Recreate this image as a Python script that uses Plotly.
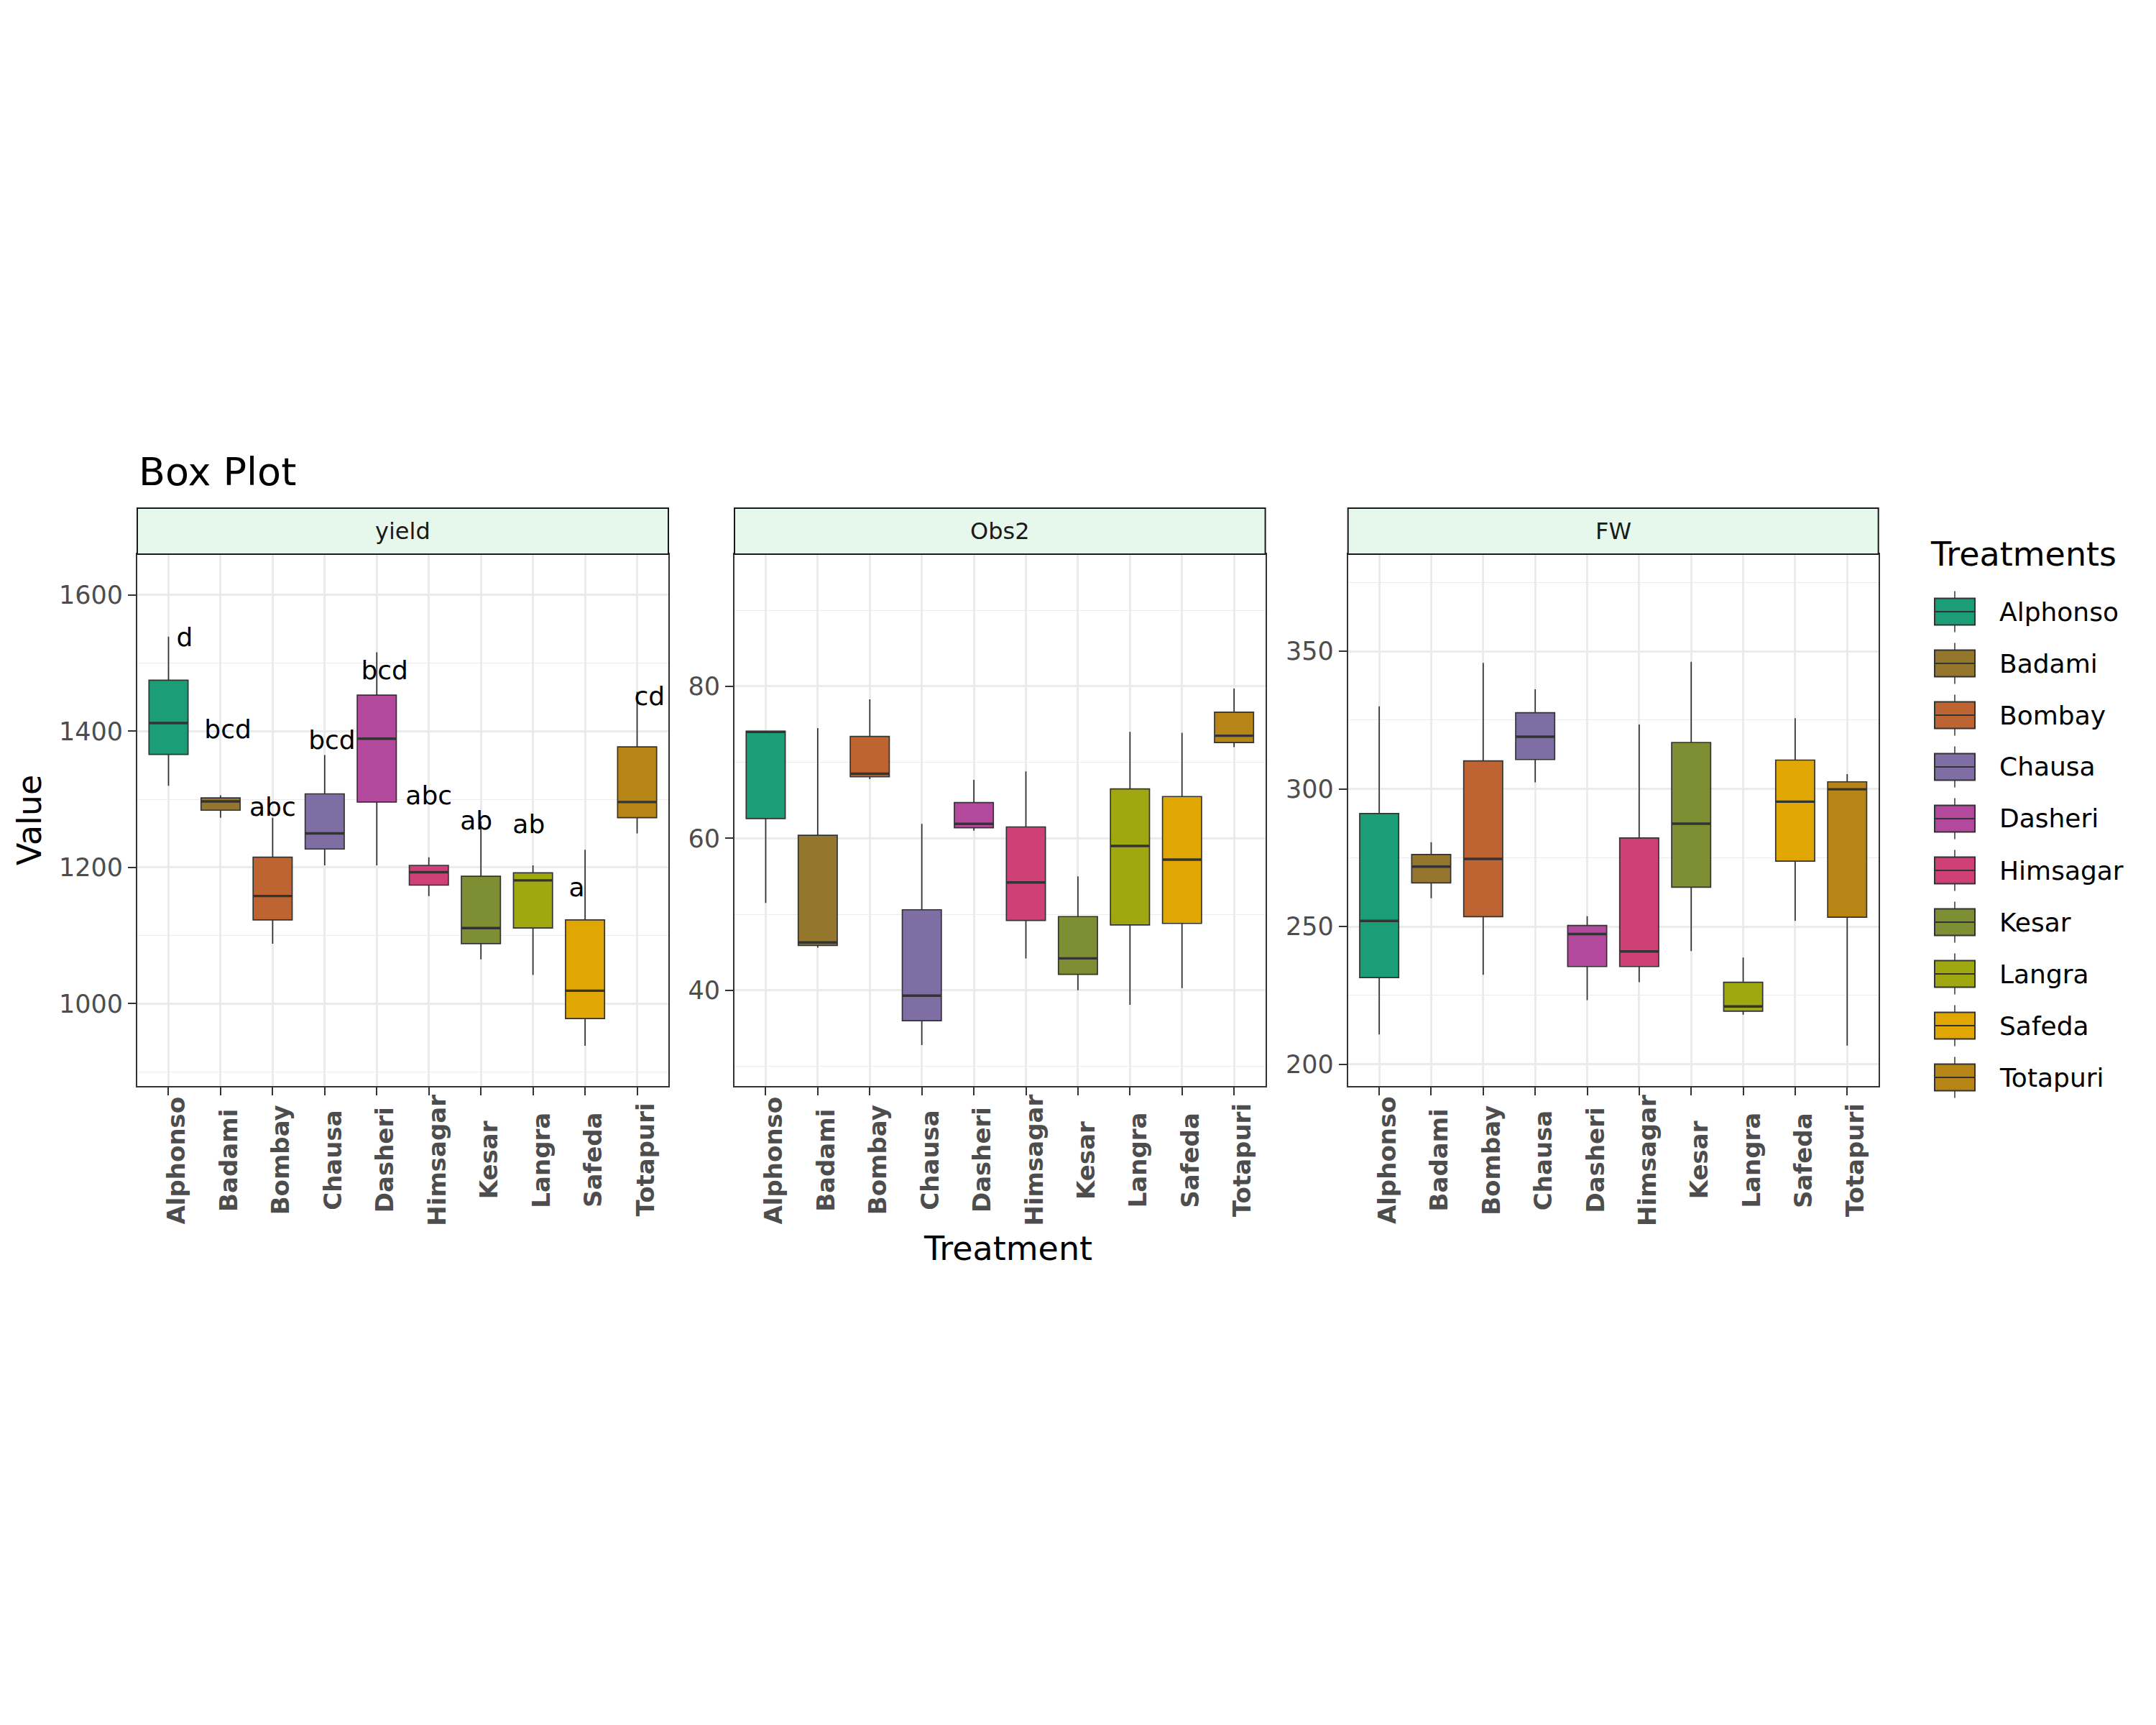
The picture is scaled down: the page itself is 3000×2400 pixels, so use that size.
import plotly.graph_objects as go

# treatments and palette
treatments = ["Alphonso", "Badami", "Bombay", "Chausa", "Dasheri",
              "Himsagar", "Kesar", "Langra", "Safeda", "Totapuri"]
colors = ["#1B9E77", "#94762D", "#BE6432", "#7E6EA3", "#B3499D",
          "#CF4076", "#7D8F32", "#A0A811", "#E0A604", "#B78416"]

# yield
yield_low = [1320, 1273, 1088, 1203, 1203, 1158, 1065, 1042, 938, 1250]
yield_q1 = [1366, 1284, 1123, 1227, 1296, 1174, 1088, 1111, 978, 1273]
yield_med = [1412, 1297, 1158, 1250, 1389, 1193, 1111, 1181, 1019, 1296]
yield_q3 = [1475, 1302, 1215, 1308, 1453, 1203, 1187, 1192, 1123, 1377]
yield_high = [1539, 1306, 1273, 1365, 1516, 1215, 1268, 1203, 1226, 1458]

# Obs2
obs2_low = [51.5, 45.6, 67.8, 32.8, 61.0, 44.2, 40.0, 38.1, 40.3, 72.0]
obs2_q1 = [62.6, 45.9, 68.1, 36.0, 61.4, 49.2, 42.1, 48.6, 48.8, 72.6]
obs2_med = [74.0, 46.3, 68.5, 39.3, 61.9, 54.2, 44.2, 59.0, 57.2, 73.5]
obs2_q3 = [74.1, 60.4, 73.4, 50.6, 64.7, 61.5, 49.7, 66.5, 65.5, 76.6]
obs2_high = [74.1, 74.5, 78.3, 61.9, 67.7, 68.8, 55.0, 74.0, 73.9, 79.7]

# FW
fw_low = [210.8, 260.3, 232.5, 302.4, 223.3, 229.8, 241.1, 218.0, 252.1, 206.8]
fw_q1 = [231.5, 265.9, 253.6, 310.7, 235.5, 235.5, 264.3, 219.3, 273.8, 253.4]
fw_med = [252.1, 271.8, 274.6, 319.0, 247.3, 241.0, 287.4, 221.0, 295.4, 299.9]
fw_q3 = [291.1, 276.2, 310.2, 327.7, 250.4, 282.2, 316.9, 229.8, 310.5, 302.6]
fw_high = [330.0, 280.7, 345.8, 336.2, 253.8, 323.4, 346.2, 238.8, 325.7, 305.4]

# significance letters on the yield panel
letters = ["d", "bcd", "abc", "bcd", "bcd", "abc", "ab", "ab", "a", "cd"]
letter_y = [1534, 1399, 1285, 1383, 1486, 1302, 1265, 1260, 1167, 1448]
letter_nudge = [0.31, 0.14, 0.0, 0.14, 0.15, 0.0, -0.09, -0.08, -0.16, 0.24]

W, H = 3000, 2400
OFF = 8  # page body margin
FONT = "DejaVu Sans"
BOX_W = 0.75


def px(x):
    return (x - OFF) / W


def py(y):
    return 1 - (y - OFF) / H


panels = [
    dict(name="yield", low=yield_low, q1=yield_q1, med=yield_med, q3=yield_q3,
         high=yield_high, x0=191, x1=930, yr=[879, 1660],
         major=[1000, 1200, 1400, 1600], minor=[900, 1100, 1300, 1500]),
    dict(name="Obs2", low=obs2_low, q1=obs2_q1, med=obs2_med, q3=obs2_q3,
         high=obs2_high, x0=1022, x1=1760.6, yr=[27.4, 97.4],
         major=[40, 60, 80], minor=[30, 50, 70, 90]),
    dict(name="FW", low=fw_low, q1=fw_q1, med=fw_med, q3=fw_q3,
         high=fw_high, x0=1875.7, x1=2613.7, yr=[192.1, 385.3],
         major=[200, 250, 300, 350], minor=[225, 275, 325, 375]),
]

PLOT_TOP, PLOT_BOT = 771, 1511
STRIP_TOP = 707

fig = go.Figure()
shapes = []
annotations = []
idx = list(range(len(treatments)))

for p_i, p in enumerate(panels):
    sfx = "" if p_i == 0 else str(p_i + 1)
    xa, ya = "x" + sfx, "y" + sfx
    for i in idx:
        fig.add_trace(go.Box(
            x=[i], q1=[p["q1"][i]], median=[p["med"][i]], q3=[p["q3"][i]],
            lowerfence=[p["low"][i]], upperfence=[p["high"][i]],
            fillcolor=colors[i], line=dict(color="#333333", width=1.7),
            whiskerwidth=0, width=BOX_W, boxpoints=False,
            showlegend=False, hoverinfo="skip", xaxis=xa, yaxis=ya,
        ))
    # thicker median bars like ggplot
    mx, my = [], []
    for i in idx:
        mx += [i - BOX_W / 2, i + BOX_W / 2, None]
        my += [p["med"][i], p["med"][i], None]
    fig.add_trace(go.Scatter(x=mx, y=my, mode="lines",
                             line=dict(color="#333333", width=3.4),
                             showlegend=False, hoverinfo="skip",
                             xaxis=xa, yaxis=ya))

    axis_common = dict(showline=True, mirror=True, linecolor="#333333",
                       linewidth=2, ticks="outside", ticklen=11, tickwidth=2,
                       tickcolor="#333333", showgrid=True,
                       gridcolor="#EBEBEB", gridwidth=2.6, zeroline=False)
    fig.update_layout(**{
        "xaxis" + sfx: dict(axis_common, domain=[px(p["x0"]), px(p["x1"])],
                            range=[-0.6, 9.6], tickvals=idx,
                            showticklabels=False, anchor=ya),
        "yaxis" + sfx: dict(axis_common, domain=[py(PLOT_BOT), py(PLOT_TOP)],
                            range=p["yr"], tickvals=p["major"],
                            tickfont=dict(family=FONT, size=35, color="#4D4D4D"),
                            minor=dict(tickvals=p["minor"], showgrid=True,
                                       gridcolor="#EBEBEB", gridwidth=1.3,
                                       ticks=""),
                            anchor=xa),
    })

    # facet strip
    shapes.append(dict(type="rect", xref="paper", yref="paper",
                       x0=px(p["x0"]), x1=px(p["x1"]),
                       y0=py(PLOT_TOP), y1=py(STRIP_TOP),
                       fillcolor="#E6F8EC", line=dict(color="#1A1A1A", width=2)))
    annotations.append(dict(text=p["name"], xref="paper", yref="paper",
                            x=px((p["x0"] + p["x1"]) / 2),
                            y=py((PLOT_TOP + STRIP_TOP) / 2),
                            showarrow=False, xanchor="center", yanchor="middle",
                            font=dict(family=FONT, size=32, color="#1A1A1A")))

    # rotated, centred category labels
    for i in idx:
        annotations.append(dict(text="<b>" + treatments[i] + "</b>",
                                xref=xa, yref="paper", x=i, y=py(1614),
                                xshift=11, textangle=-90, showarrow=False,
                                xanchor="center", yanchor="middle",
                                font=dict(family=FONT, size=34, color="#4D4D4D")))

# letters on yield panel
fig.add_trace(go.Scatter(
    x=[i + n for i, n in zip(idx, letter_nudge)], y=letter_y, text=letters,
    mode="text", textposition="middle center",
    textfont=dict(family=FONT, size=36, color="black"),
    showlegend=False, hoverinfo="skip", xaxis="x", yaxis="y",
))

# manual legend with ggplot-style box keys
annotations.append(dict(text="Treatments", xref="paper", yref="paper",
                        x=px(2684), y=py(771), showarrow=False,
                        xanchor="left", yanchor="middle",
                        font=dict(family=FONT, size=46, color="black")))
for k, (name, col) in enumerate(zip(treatments, colors)):
    yc = 851 + 72 * k
    kx0, kx1 = 2692, 2748
    kxm = (kx0 + kx1) / 2
    shapes.append(dict(type="line", xref="paper", yref="paper",
                       x0=px(kxm), x1=px(kxm), y0=py(yc - 28.5), y1=py(yc + 28.5),
                       line=dict(color="#333333", width=1.5)))
    shapes.append(dict(type="rect", xref="paper", yref="paper",
                       x0=px(kx0), x1=px(kx1), y0=py(yc + 18.5), y1=py(yc - 18.5),
                       fillcolor=col, line=dict(color="#333333", width=2)))
    shapes.append(dict(type="line", xref="paper", yref="paper",
                       x0=px(kx0), x1=px(kx1), y0=py(yc), y1=py(yc),
                       line=dict(color="#333333", width=2)))
    annotations.append(dict(text=name, xref="paper", yref="paper",
                            x=px(2780), y=py(yc), showarrow=False,
                            xanchor="left", yanchor="middle",
                            font=dict(family=FONT, size=36, color="black")))

# titles
annotations.append(dict(text="Box Plot", xref="paper", yref="paper",
                        x=px(191), y=py(656), showarrow=False,
                        xanchor="left", yanchor="middle",
                        font=dict(family=FONT, size=54, color="black")))
annotations.append(dict(text="Value", xref="paper", yref="paper",
                        x=px(41), y=py(1141), textangle=-90, showarrow=False,
                        xanchor="center", yanchor="middle",
                        font=dict(family=FONT, size=46, color="black")))
annotations.append(dict(text="Treatment", xref="paper", yref="paper",
                        x=px(1402), y=py(1737), showarrow=False,
                        xanchor="center", yanchor="middle",
                        font=dict(family=FONT, size=46, color="black")))

fig.update_layout(
    width=W, height=H,
    margin=dict(l=0, r=0, t=0, b=0),
    paper_bgcolor="white", plot_bgcolor="white",
    boxmode="overlay", showlegend=False,
    shapes=shapes, annotations=annotations,
    font=dict(family=FONT),
)

fig.write_html("out.html")
